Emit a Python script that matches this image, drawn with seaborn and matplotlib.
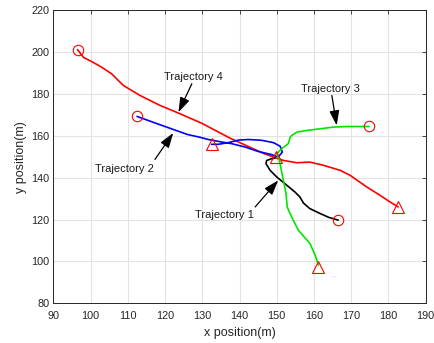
import matplotlib
matplotlib.use("Agg")
import matplotlib.pyplot as plt
import seaborn as sns
import pandas as pd

# ---- data ----
traj1_x = [166.5, 164.0, 161.6, 158.9, 157.2, 156.2, 154.9, 152.2, 150.0, 148.2, 147.1, 147.3, 148.6, 149.5]
traj1_y = [119.7, 121.0, 122.9, 125.2, 127.8, 130.8, 133.1, 137.1, 140.3, 143.5, 146.7, 148.2, 149.0, 149.3]

traj2_x = [112.5, 117.0, 122.2, 126.0, 129.5, 131.6, 135.2, 137.9, 141.5, 145.0, 148.6, 150.4,
           151.5, 150.9, 149.1, 146.0, 142.4, 139.7, 137.0, 134.3, 132.5]
traj2_y = [169.2, 166.3, 163.0, 160.6, 159.2, 158.2, 157.0, 156.2, 154.6, 152.5, 151.0, 149.8,
           152.2, 155.0, 156.7, 157.8, 158.2, 157.9, 156.7, 155.9, 155.9]

traj3_x = [174.8, 168.8, 165.2, 161.6, 158.0, 155.4, 154.0, 153.6, 153.1, 151.3, 150.0, 150.7,
           151.6, 152.5, 152.8, 154.0, 155.8, 158.9, 160.3, 161.2]
traj3_y = [164.4, 164.4, 164.1, 163.3, 162.5, 161.7, 160.1, 159.3, 156.2, 153.8, 151.4, 148.2,
           140.3, 132.4, 126.0, 121.2, 114.9, 108.6, 103.0, 98.2]

traj4_x = [96.5, 98.1, 100.5, 103.0, 105.7, 108.8, 113.3, 118.5, 124.0, 129.8, 133.0, 137.5, 142.8,
           146.4, 149.1, 151.8, 155.4, 158.9, 162.5, 167.0, 169.7, 174.2, 177.7, 180.4, 182.6]
traj4_y = [201.1, 197.4, 195.2, 192.7, 189.5, 184.0, 179.2, 174.6, 170.5, 166.0, 163.0, 158.8, 154.5,
           151.6, 149.8, 148.2, 147.1, 147.4, 145.9, 143.5, 141.1, 135.5, 131.6, 128.4, 126.0]

start_x = [166.5, 112.5, 174.8, 96.5]
start_y = [119.7, 169.2, 164.4, 201.1]
end_x = [149.8, 132.6, 161.2, 182.6]
end_y = [149.9, 155.9, 97.5, 126.0]

labels = ["Trajectory 1", "Trajectory 2", "Trajectory 3", "Trajectory 4"]
label_x = [135.9, 109.0, 164.5, 127.5]
label_y = [122.0, 144.3, 182.4, 188.2]
arrow_from_x = [144.2, 117.3, 164.8, 127.2]
arrow_from_y = [126.0, 148.7, 179.2, 184.8]
arrow_to_x = [150.4, 122.2, 166.1, 123.6]
arrow_to_y = [138.7, 161.3, 164.9, 171.2]

xticks = list(range(90, 191, 10))
yticks = list(range(80, 221, 20))

# ---- style ----
sns.set_style("whitegrid", {
    "grid.color": "#e3e3e3",
    "axes.edgecolor": "#262626",
    "xtick.direction": "in",
    "ytick.direction": "in",
})
plt.rcParams["font.family"] = ["Liberation Sans", "DejaVu Sans"]

fig = plt.figure(figsize=(4.34, 3.43), dpi=100)
ax = fig.add_axes([0.1228, 0.1157, 0.8581, 0.8551])

colors = ["black", "blue", "#00e600", "red"]
xs = [traj1_x, traj2_x, traj3_x, traj4_x]
ys = [traj1_y, traj2_y, traj3_y, traj4_y]
for i in [3, 1, 0, 2]:
    df = pd.DataFrame({"x": xs[i], "y": ys[i]})
    sns.lineplot(data=df, x="x", y="y", sort=False, estimator=None, color=colors[i],
                 lw=1.2, ax=ax)

sns.lineplot(x=start_x, y=start_y, sort=False, estimator=None, linestyle="none",
             marker="o", markersize=7.5, markerfacecolor="none", markeredgecolor="red",
             markeredgewidth=0.8, ax=ax)
sns.lineplot(x=end_x, y=end_y, sort=False, estimator=None, linestyle="none",
             marker="^", markersize=9, markerfacecolor="none", markeredgecolor="red",
             markeredgewidth=0.8, ax=ax)

for i in range(4):
    ax.text(label_x[i], label_y[i], labels[i], ha="center", va="center",
            fontsize=8, color="#1a1a1a")
    ax.annotate("", xy=(arrow_to_x[i], arrow_to_y[i]),
                xytext=(arrow_from_x[i], arrow_from_y[i]),
                arrowprops=dict(arrowstyle="-|>,head_length=0.9,head_width=0.3",
                                color="black", lw=0.9, mutation_scale=10,
                                shrinkA=0, shrinkB=0))

ax.set_xlim(90, 190)
ax.set_ylim(80, 220)
ax.set_xticks(xticks)
ax.set_yticks(yticks)
ax.set_xlabel("x position(m)", fontsize=9, color="#262626", labelpad=4)
ax.set_ylabel("y position(m)", fontsize=9, color="#262626", labelpad=3)
ax.tick_params(axis="both", which="both", direction="in", length=3, width=0.6,
               labelsize=7.8, labelcolor="#262626", color="#262626",
               top=True, right=True, pad=3)
ax.tick_params(axis="x", pad=5.5)
for s in ax.spines.values():
    s.set_linewidth(0.7)
    s.set_color("#262626")

fig.savefig("out.png", dpi=100)
